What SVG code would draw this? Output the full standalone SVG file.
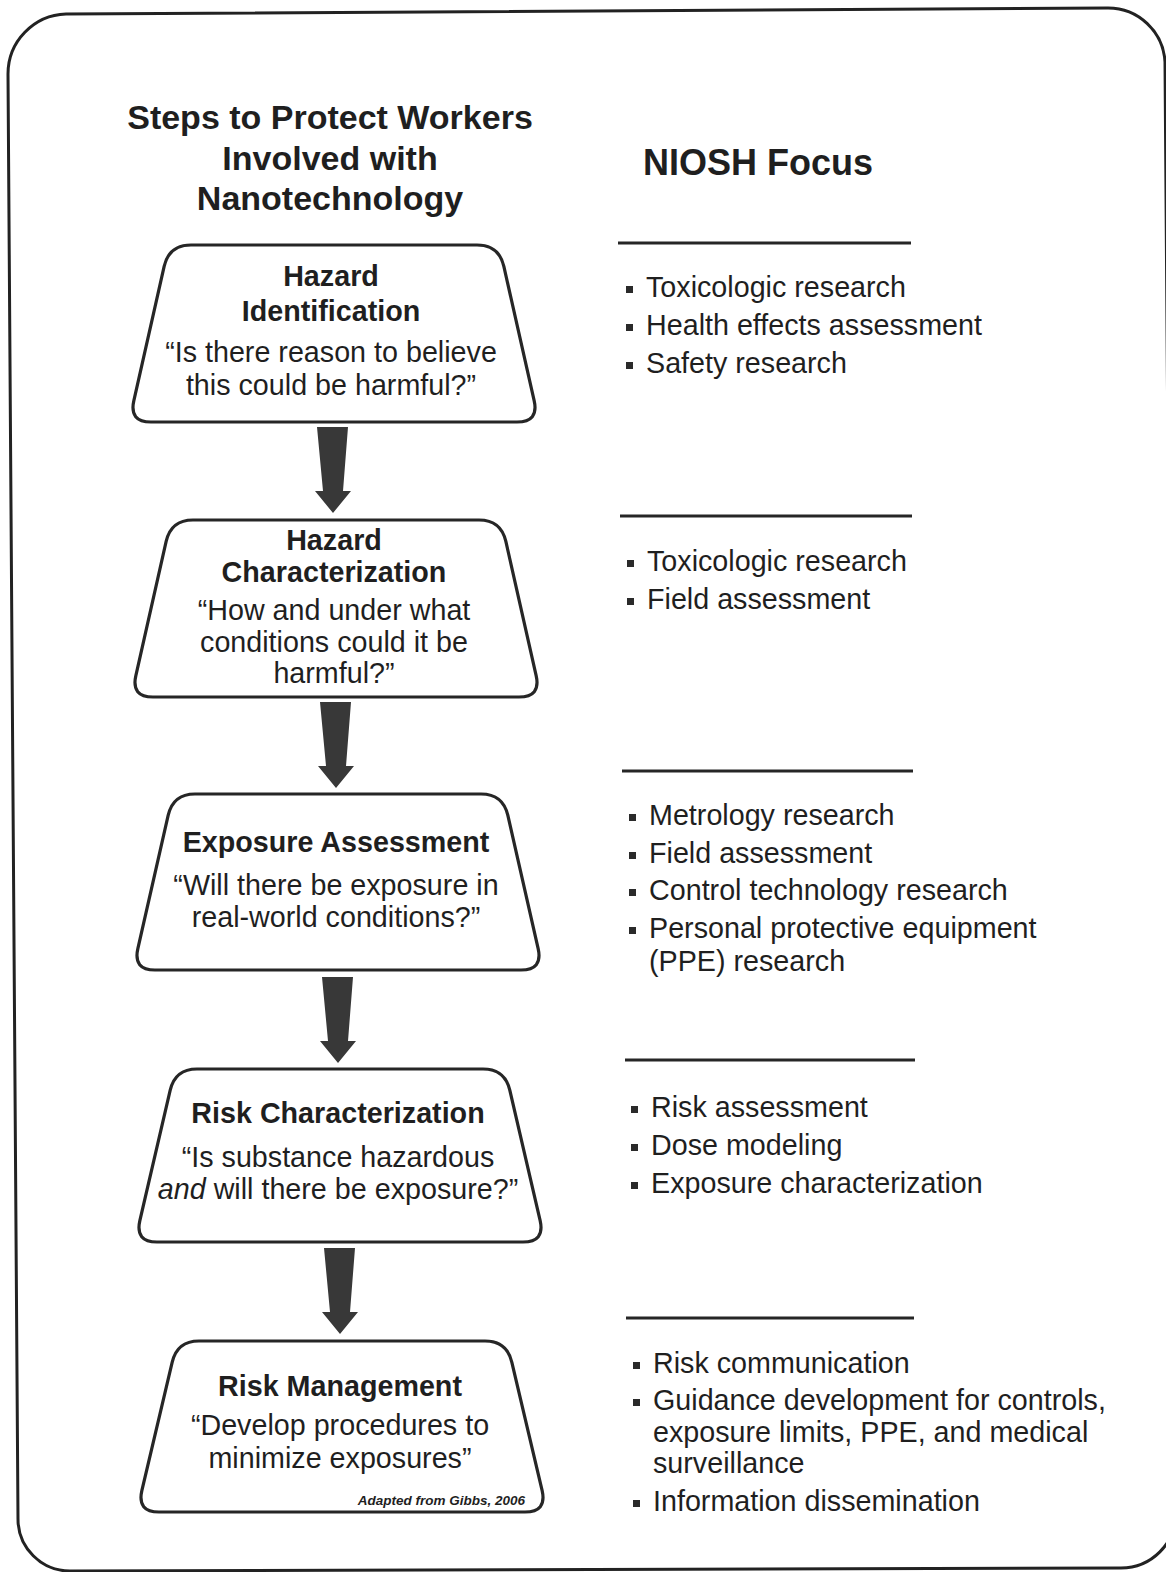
<svg xmlns="http://www.w3.org/2000/svg" width="1166" height="1572" viewBox="0 0 1166 1572">
<style>
text{font-family:"Liberation Sans",Arial,Helvetica,sans-serif;fill:#1f1f1f;font-size:28.7px}
.t{font-weight:bold;font-size:34px;text-anchor:middle}
.nf{font-size:36px}
.h{font-weight:bold;text-anchor:middle}
.q{text-anchor:middle}
.node{fill:#fff;stroke:#262626;stroke-width:3.2}
.arrow{fill:#383838}
.rule{stroke:#262626;stroke-width:3.2}
.bul{fill:#2a2a2a}
.src{font-size:13.5px;font-style:italic;font-weight:bold;text-anchor:end}
</style>
<rect width="1166" height="1572" fill="#ffffff"/>
<path d="M 8,74 A 60,60 0 0 1 66,14 L 1108,8 A 57,57 0 0 1 1165,62 L 1176,1513 A 55,55 0 0 1 1121,1568 L 70,1571 A 52,52 0 0 1 18,1519 Z" fill="none" stroke="#222" stroke-width="3"/>
<g id="titles">
<text class="t" x="330" y="129">Steps to Protect Workers</text>
<text class="t" x="330" y="170">Involved with</text>
<text class="t" x="330" y="210">Nanotechnology</text>
<text class="t nf" x="758" y="175">NIOSH Focus</text>
</g>
<g id="connectors">
<path class="arrow" d="M317,427 L348,427 L343,491 L351,491 L333,513 L315,491 L323,491 Z"/>
<path class="arrow" d="M320,702 L351,702 L346,766 L354,766 L336,788 L318,766 L326,766 Z"/>
<path class="arrow" d="M322,977 L353,977 L348,1041 L356,1041 L338,1063 L320,1041 L328,1041 Z"/>
<path class="arrow" d="M324,1248 L355,1248 L350,1312 L358,1312 L340,1334 L322,1312 L330,1312 Z"/>
</g>
<g id="node-hazard-identification">
<path class="node" d="M 191,245 L 477,245 Q 499,245 503.85,266.45 L 534.15,400.55 Q 539,422 517,422 L 151,422 Q 129,422 133.85,400.55 L 164.15,266.45 Q 169,245 191,245 Z"/>
<text class="h" x="331" y="286">Hazard</text>
<text class="h" x="331" y="321">Identification</text>
<text class="q" x="331" y="362">“Is there reason to believe</text>
<text class="q" x="331" y="395">this could be harmful?”</text>
</g>
<g id="node-hazard-characterization">
<path class="node" d="M 193,520 L 479,520 Q 501,520 505.85,541.45 L 536.15,675.55 Q 541,697 519,697 L 153,697 Q 131,697 135.85,675.55 L 166.15,541.45 Q 171,520 193,520 Z"/>
<text class="h" x="334" y="550">Hazard</text>
<text class="h" x="334" y="582">Characterization</text>
<text class="q" x="334" y="620">“How and under what</text>
<text class="q" x="334" y="652">conditions could it be</text>
<text class="q" x="334" y="683">harmful?”</text>
</g>
<g id="node-exposure-assessment">
<path class="node" d="M 195,794 L 481,794 Q 503,794 507.85,815.45 L 538.15,948.55 Q 543,970 521,970 L 155,970 Q 133,970 137.85,948.55 L 168.15,815.45 Q 173,794 195,794 Z"/>
<text class="h" x="336" y="852">Exposure Assessment</text>
<text class="q" x="336" y="895">“Will there be exposure in</text>
<text class="q" x="336" y="927">real-world conditions?”</text>
</g>
<g id="node-risk-characterization">
<path class="node" d="M 197,1069 L 483,1069 Q 505,1069 509.85,1090.45 L 540.15,1220.55 Q 545,1242 523,1242 L 157,1242 Q 135,1242 139.85,1220.55 L 170.15,1090.45 Q 175,1069 197,1069 Z"/>
<text class="h" x="338" y="1123">Risk Characterization</text>
<text class="q" x="338" y="1167">“Is substance hazardous</text>
<text class="q" x="338" y="1199"><tspan font-style="italic">and</tspan> will there be exposure?”</text>
</g>
<g id="node-risk-management">
<path class="node" d="M 199,1341 L 485,1341 Q 507,1341 511.85,1362.45 L 542.15,1490.55 Q 547,1512 525,1512 L 159,1512 Q 137,1512 141.85,1490.55 L 172.15,1362.45 Q 177,1341 199,1341 Z"/>
<text class="h" x="340" y="1396">Risk Management</text>
<text class="q" x="340" y="1435">“Develop procedures to</text>
<text class="q" x="340" y="1468">minimize exposures”</text>
<text class="src" x="525" y="1505">Adapted from Gibbs, 2006</text>
</g>
<g id="focus-1">
<line class="rule" x1="618" y1="243" x2="911" y2="243"/>
<rect class="bul" x="626" y="286" width="7" height="7"/><text x="646" y="297">Toxicologic research</text>
<rect class="bul" x="626" y="324" width="7" height="7"/><text x="646" y="335">Health effects assessment</text>
<rect class="bul" x="626" y="362" width="7" height="7"/><text x="646" y="373">Safety research</text>
</g>
<g id="focus-2">
<line class="rule" x1="620" y1="516" x2="912" y2="516"/>
<rect class="bul" x="627" y="560" width="7" height="7"/><text x="647" y="571">Toxicologic research</text>
<rect class="bul" x="627" y="598" width="7" height="7"/><text x="647" y="609">Field assessment</text>
</g>
<g id="focus-3">
<line class="rule" x1="622" y1="771" x2="913" y2="771"/>
<rect class="bul" x="629" y="814" width="7" height="7"/><text x="649" y="825">Metrology research</text>
<rect class="bul" x="629" y="852" width="7" height="7"/><text x="649" y="863">Field assessment</text>
<rect class="bul" x="629" y="889" width="7" height="7"/><text x="649" y="900">Control technology research</text>
<rect class="bul" x="629" y="927" width="7" height="7"/><text x="649" y="938">Personal protective equipment</text>
<text x="649" y="971">(PPE) research</text>
</g>
<g id="focus-4">
<line class="rule" x1="625" y1="1060" x2="915" y2="1060"/>
<rect class="bul" x="631" y="1106" width="7" height="7"/><text x="651" y="1117">Risk assessment</text>
<rect class="bul" x="631" y="1144" width="7" height="7"/><text x="651" y="1155">Dose modeling</text>
<rect class="bul" x="631" y="1182" width="7" height="7"/><text x="651" y="1193">Exposure characterization</text>
</g>
<g id="focus-5">
<line class="rule" x1="626" y1="1318" x2="914" y2="1318"/>
<rect class="bul" x="633" y="1362" width="7" height="7"/><text x="653" y="1373">Risk communication</text>
<rect class="bul" x="633" y="1399" width="7" height="7"/><text x="653" y="1410">Guidance development for controls,</text>
<text x="653" y="1442">exposure limits, PPE, and medical</text>
<text x="653" y="1473">surveillance</text>
<rect class="bul" x="633" y="1500" width="7" height="7"/><text x="653" y="1511">Information dissemination</text>
</g>
</svg>
